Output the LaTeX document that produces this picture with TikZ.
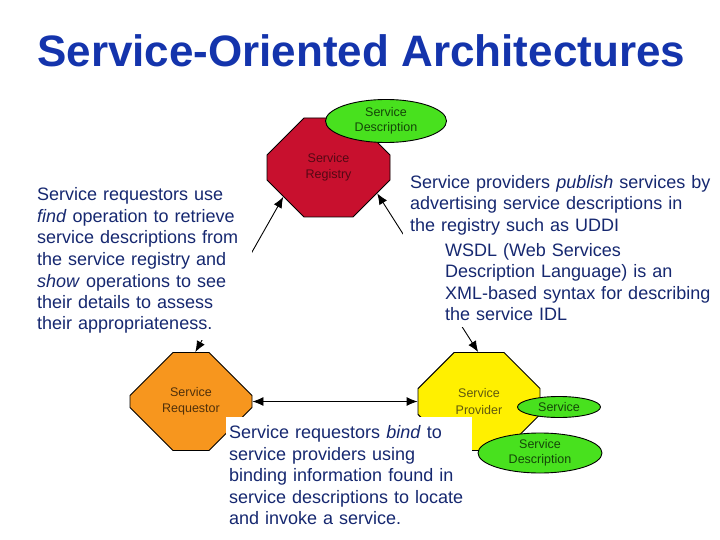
\documentclass[tikz,border=0pt]{standalone}
\usepackage{fontspec}
\setmainfont{Liberation Sans}
\usetikzlibrary{shapes.misc,shapes.geometric,arrows.meta}
\hyphenpenalty=10000
\exhyphenpenalty=10000
\definecolor{titleblue}{RGB}{20,52,172}
\definecolor{textblue}{RGB}{22,40,112}
\definecolor{regred}{RGB}{200,16,46}
\definecolor{reglabel}{RGB}{85,8,20}
\definecolor{reqorange}{RGB}{247,150,30}
\definecolor{reqlabel}{RGB}{80,48,10}
\definecolor{provyellow}{RGB}{255,240,0}
\definecolor{provlabel}{RGB}{95,88,15}
\definecolor{sgreen}{RGB}{72,225,30}
\definecolor{sgreenlabel}{RGB}{20,70,8}
\begin{document}
\begin{tikzpicture}[x=1pt,y=-1pt,
  octa/.style={chamfered rectangle, chamfered rectangle xsep=33pt,
    chamfered rectangle ysep=30pt, draw=black, line width=0.9pt,
    minimum width=122pt, minimum height=98pt, inner sep=0pt, align=center,
    font=\fontsize{12.5}{16.5}\selectfont},
  oval/.style={ellipse, draw=black, line width=0.9pt, fill=sgreen,
    text=sgreenlabel, inner sep=0pt, align=center,
    font=\fontsize{12.5}{15}\selectfont},
  conn/.style={line width=0.9pt,
    {Latex[length=11pt,width=9pt]}-{Latex[length=11pt,width=9pt]}},
  para/.style={fill=white, text=textblue, align=left, inner xsep=7pt,
    inner ysep=6pt, anchor=base west,
    font=\fontsize{18}{21.5}\selectfont}
]
\useasboundingbox (0,0) rectangle (720,540);

\node[anchor=base west, inner sep=0pt, text=titleblue,
  font=\fontsize{44}{48}\selectfont\bfseries] (title) at (37,67)
  {Service-Oriented Architectures};

% shapes
\node[octa, fill=regred, text=reglabel, minimum width=123pt, minimum height=99pt]
  (reg) at (328.5,167.5) {Service\\Registry};
\node[oval, minimum width=121pt, minimum height=43pt] (regdesc) at (386,121)
  {Service\\Description};
\node[octa, fill=reqorange, text=reqlabel] (req) at (191,401.5)
  {Service\\Requestor};
\node[octa, fill=provyellow, text=provlabel] (prov) at (479,401.5)
  {Service\\Provider};
\node[oval, minimum width=83pt, minimum height=21pt] (svc) at (559,407)
  {Service};
\node[oval, minimum width=124pt, minimum height=40pt] (provdesc) at (540,453)
  {Service\\Description};

% connectors
\draw[conn] (req.east) -- (prov.west);
\draw[conn] (reg.213) -- (req.85);
\draw[conn] (reg.332) -- (prov.91);

% text boxes
\node[para, text width=208pt] (findtext) at (30,201)
  {Service requestors use\\
   \textit{find} operation to retrieve\\
   service descriptions from\\
   the service registry and\\
   \textit{show} operations to see\\
   their details to assess\\
   their appropriateness.};
\node[para, text width=318pt] (pubtext) at (403,188.5)
  {Service providers \textit{publish} services by\\
   advertising service descriptions in\\
   the registry such as UDDI\par\vspace{3.5pt}
   \leftskip=35pt WSDL (Web Services\\
   Description Language) is an\\
   XML-based syntax for describing\\
   the service IDL\par};
\node[para, text width=240pt, inner xsep=3pt, inner ysep=8pt] (bindtext)
  at (226,438.5)
  {Service requestors \textit{bind} to\\
   service providers using\\
   binding information found in\\
   service descriptions to locate\\
   and invoke a service.};
\end{tikzpicture}
\end{document}
